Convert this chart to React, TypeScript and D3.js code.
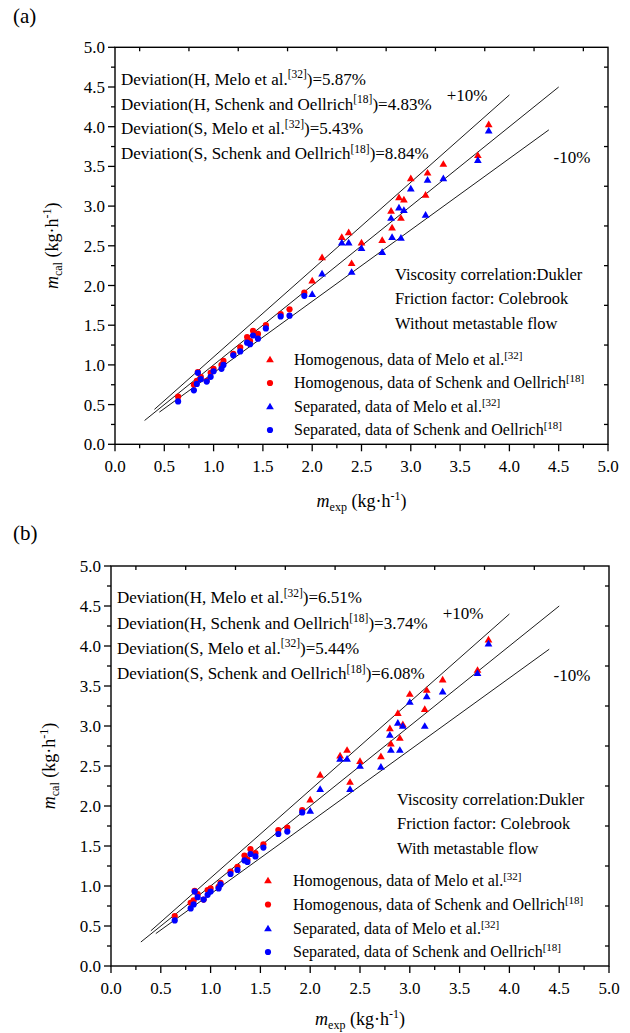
import React from 'react';
import * as d3 from 'd3';

// ---------------- DATA ----------------
const majorTicks = [0, 0.5, 1, 1.5, 2, 2.5, 3, 3.5, 4, 4.5, 5];
const minorTicks = [0.25, 0.75, 1.25, 1.75, 2.25, 2.75, 3.25, 3.75, 4.25, 4.75];

// experimental mass flow, Melo et al. [32] (triangles)
const meloExp = [2.0, 2.1, 2.3, 2.37, 2.4, 2.5, 2.71, 2.8, 2.81, 2.88, 2.9, 2.93, 3.0, 3.15, 3.17, 3.33, 3.68, 3.79];
// experimental mass flow, Schenk and Oellrich [18] (circles)
const schenkExp = [0.64, 0.8, 0.83, 0.84, 0.87, 0.93, 0.97, 1.0, 1.08, 1.1, 1.2, 1.27, 1.34, 1.37, 1.4, 1.45, 1.53, 1.68, 1.77, 1.92];

// panel (a): without metastable flow
const aHomMelo = [2.06, 2.355, 2.61, 2.67, 2.28, 2.54, 2.57, 2.94, 2.73, 3.11, 2.85, 3.08, 3.35, 3.14, 3.42, 3.53, 3.64, 4.03];
const aSepMelo = [1.89, 2.15, 2.54, 2.54, 2.17, 2.47, 2.42, 2.85, 2.61, 2.98, 2.6, 2.95, 3.22, 2.89, 3.33, 3.35, 3.58, 3.95];
const aHomSchenk = [0.6, 0.75, 0.8, 0.91, 0.85, 0.8, 0.9, 0.95, 1.0, 1.05, 1.14, 1.22, 1.35, 1.3, 1.43, 1.39, 1.5, 1.64, 1.7, 1.91];
const aSepSchenk = [0.54, 0.68, 0.76, 0.9, 0.82, 0.79, 0.85, 0.92, 0.95, 1.0, 1.12, 1.17, 1.28, 1.26, 1.37, 1.33, 1.46, 1.61, 1.62, 1.87];

// panel (b): with metastable flow
const bHomMelo = [2.08, 2.39, 2.63, 2.7, 2.3, 2.56, 2.62, 2.97, 2.78, 3.16, 2.85, 3.02, 3.4, 3.21, 3.45, 3.58, 3.7, 4.08];
const bSepMelo = [1.94, 2.21, 2.59, 2.59, 2.21, 2.5, 2.49, 2.89, 2.7, 3.04, 2.7, 3.0, 3.3, 3.0, 3.37, 3.43, 3.66, 4.03];
const bHomSchenk = [0.625, 0.79, 0.82, 0.94, 0.9, 0.83, 0.95, 0.97, 0.99, 1.04, 1.18, 1.24, 1.38, 1.33, 1.46, 1.41, 1.52, 1.7, 1.73, 1.95];
const bSepSchenk = [0.57, 0.72, 0.77, 0.93, 0.86, 0.83, 0.89, 0.93, 0.97, 1.02, 1.15, 1.2, 1.32, 1.3, 1.4, 1.37, 1.48, 1.65, 1.68, 1.92];

const deviationSources = [
  { model: 'H', source: 'Melo et al.', ref: '32' },
  { model: 'H', source: 'Schenk and Oellrich', ref: '18' },
  { model: 'S', source: 'Melo et al.', ref: '32' },
  { model: 'S', source: 'Schenk and Oellrich', ref: '18' },
];
const deviationsA = ['5.87%', '4.83%', '5.43%', '8.84%'];
const deviationsB = ['6.51%', '3.74%', '5.44%', '6.08%'];

const legendItems = [
  { text: 'Homogenous, data of Melo et al.', ref: '32', color: '#FF0000', shape: 'tri' },
  { text: 'Homogenous, data of Schenk and Oellrich', ref: '18', color: '#FF0000', shape: 'circ' },
  { text: 'Separated, data of Melo et al.', ref: '32', color: '#0000FF', shape: 'tri' },
  { text: 'Separated, data of Schenk and Oellrich', ref: '18', color: '#0000FF', shape: 'circ' },
];

const notesA = ['Viscosity correlation:Dukler', 'Friction factor: Colebrook', 'Without metastable flow'];
const notesB = ['Viscosity correlation:Dukler', 'Friction factor: Colebrook', 'With metastable flow'];

// reference lines: slope and x-extent
const refLines = [
  { k: 1.0, x0: 0.3, x1: 4.5 },
  { k: 1.1, x0: 0.4, x1: 4.0 },
  { k: 0.9, x0: 0.45, x1: 4.4 },
];

const FONT = "'Liberation Serif', 'Times New Roman', serif";
const RED = '#FF0000';
const BLUE = '#0000FF';

const triPath = d3.symbol(d3.symbolTriangle, 26)() as string;

type PanelProps = {
  label: string;
  labelY: number;
  left: number; right: number; top: number; bottom: number;
  homMelo: number[]; sepMelo: number[]; homSchenk: number[]; sepSchenk: number[];
  deviations: string[];
  devX: number; devY: number[];
  plus: [number, number]; minus: [number, number];
  notes: string[]; notesX: number; notesY: number[];
  legX: number; legTextX: number; legY: number[];
  yTitleX: number; xTitleY: number;
};

function Marker({ shape, color, x, y }: { shape: string; color: string; x: number; y: number }) {
  if (shape === 'tri') return <path d={triPath} transform={`translate(${x},${y + 0.6})`} fill={color} />;
  return <circle cx={x} cy={y} r={3.1} fill={color} />;
}

function Panel(p: PanelProps) {
  const x = d3.scaleLinear().domain([0, 5]).range([p.left, p.right]);
  const y = d3.scaleLinear().domain([0, 5]).range([p.bottom, p.top]);
  const fmt = d3.format('.1f');
  const series = [
    { xs: meloExp, ys: p.homMelo, color: RED, shape: 'tri' },
    { xs: schenkExp, ys: p.homSchenk, color: RED, shape: 'circ' },
    { xs: meloExp, ys: p.sepMelo, color: BLUE, shape: 'tri' },
    { xs: schenkExp, ys: p.sepSchenk, color: BLUE, shape: 'circ' },
  ];
  const line = d3.line<[number, number]>().x(d => x(d[0])).y(d => y(d[1]));
  return (
    <g fontFamily={FONT} fill="#000">
      <text x={13} y={p.labelY} fontSize={21}>{p.label}</text>
      {refLines.map((r, i) => (
        <path key={i} d={line([[r.x0, r.k * r.x0], [r.x1, r.k * r.x1]]) as string} stroke="#000" strokeWidth={0.9} fill="none" />
      ))}
      {series.map((s, si) => (
        <g key={si}>
          {s.xs.map((xv, i) => (
            <Marker key={i} shape={s.shape} color={s.color} x={x(xv)} y={y(s.ys[i])} />
          ))}
        </g>
      ))}
      <rect x={p.left} y={p.top} width={p.right - p.left} height={p.bottom - p.top} fill="none" stroke="#000" strokeWidth={1.4} />
      {majorTicks.map(t => (
        <g key={'bx' + t}>
          <line x1={x(t)} x2={x(t)} y1={p.bottom} y2={p.bottom + 7} stroke="#000" strokeWidth={1.3} />
          <text x={x(t)} y={p.bottom + 28} fontSize={17} textAnchor="middle">{fmt(t)}</text>
        </g>
      ))}
      {minorTicks.map(t => (
        <g key={'mx' + t}>
          <line x1={x(t)} x2={x(t)} y1={p.bottom} y2={p.bottom + 4} stroke="#000" strokeWidth={1.3} />
          <line x1={x(t)} x2={x(t)} y1={p.top} y2={p.top + 4} stroke="#000" strokeWidth={1.3} />
          <line y1={y(t)} y2={y(t)} x1={p.left} x2={p.left - 4} stroke="#000" strokeWidth={1.3} />
          <line y1={y(t)} y2={y(t)} x1={p.right} x2={p.right - 4} stroke="#000" strokeWidth={1.3} />
        </g>
      ))}
      {majorTicks.map(t => (
        <g key={'ly' + t}>
          <line y1={y(t)} y2={y(t)} x1={p.left} x2={p.left - 7} stroke="#000" strokeWidth={1.3} />
          <text x={p.left - 10} y={y(t) + 6} fontSize={17} textAnchor="end">{fmt(t)}</text>
        </g>
      ))}
      {deviationSources.map((d, i) => (
        <text key={'dev' + i} x={p.devX} y={p.devY[i]} fontSize={17}>
          {`Deviation(${d.model}, ${d.source}`}
          <tspan dy={-6.5} fontSize={11.5}>{`[${d.ref}]`}</tspan>
          <tspan dy={6.5}>{`)=${p.deviations[i]}`}</tspan>
        </text>
      ))}
      <text x={p.plus[0]} y={p.plus[1]} fontSize={17} textAnchor="middle">+10%</text>
      <text x={p.minus[0]} y={p.minus[1]} fontSize={17} textAnchor="middle">-10%</text>
      {p.notes.map((n, i) => (
        <text key={'n' + i} x={p.notesX} y={p.notesY[i]} fontSize={16.5}>{n}</text>
      ))}
      {legendItems.map((l, i) => (
        <g key={'leg' + i}>
          <Marker shape={l.shape} color={l.color} x={p.legX} y={p.legY[i] - 5} />
          <text x={p.legTextX} y={p.legY[i]} fontSize={16}>
            {l.text}
            <tspan dy={-6} fontSize={11}>{`[${l.ref}]`}</tspan>
          </text>
        </g>
      ))}
      <text transform={`translate(${p.yTitleX},${(p.top + p.bottom) / 2}) rotate(-90)`} textAnchor="middle" fontSize={18}>
        <tspan fontStyle="italic">m</tspan>
        <tspan dy={4} fontSize={12}>cal</tspan>
        <tspan dy={-4}>{' (kg·h'}</tspan>
        <tspan dy={-7} fontSize={12}>-1</tspan>
        <tspan dy={7}>)</tspan>
      </text>
      <text x={(p.left + p.right) / 2} y={p.xTitleY} textAnchor="middle" fontSize={18}>
        <tspan fontStyle="italic">m</tspan>
        <tspan dy={4} fontSize={12}>exp</tspan>
        <tspan dy={-4}>{' (kg·h'}</tspan>
        <tspan dy={-7} fontSize={12}>-1</tspan>
        <tspan dy={7}>)</tspan>
      </text>
    </g>
  );
}

export default function App() {
  return (
    <svg width={630} height={1033} style={{ position: 'absolute', left: 0, top: 0, background: '#fff' }}>
      <rect width={630} height={1033} fill="#fff" />
      <Panel
        label="(a)" labelY={23}
        left={115} right={608} top={47.3} bottom={444.3}
        homMelo={aHomMelo} sepMelo={aSepMelo} homSchenk={aHomSchenk} sepSchenk={aSepSchenk}
        deviations={deviationsA}
        devX={121} devY={[84.5, 109.5, 134, 159]}
        plus={[467, 100.5]} minus={[572, 162.5]}
        notes={notesA} notesX={395} notesY={[279.5, 304, 329]}
        legX={270} legTextX={294} legY={[364.5, 388, 411.5, 435]}
        yTitleX={58} xTitleY={507}
      />
      <Panel
        label="(b)" labelY={540}
        left={111} right={609} top={566} bottom={966}
        homMelo={bHomMelo} sepMelo={bSepMelo} homSchenk={bHomSchenk} sepSchenk={bSepSchenk}
        deviations={deviationsB}
        devX={117} devY={[603, 628.5, 653.5, 679]}
        plus={[463, 618.5]} minus={[572, 680.5]}
        notes={notesB} notesX={397} notesY={[804.5, 828.5, 853.5]}
        legX={268} legTextX={293} legY={[885.5, 909.5, 933.5, 957]}
        yTitleX={55} xTitleY={1025}
      />
    </svg>
  );
}
